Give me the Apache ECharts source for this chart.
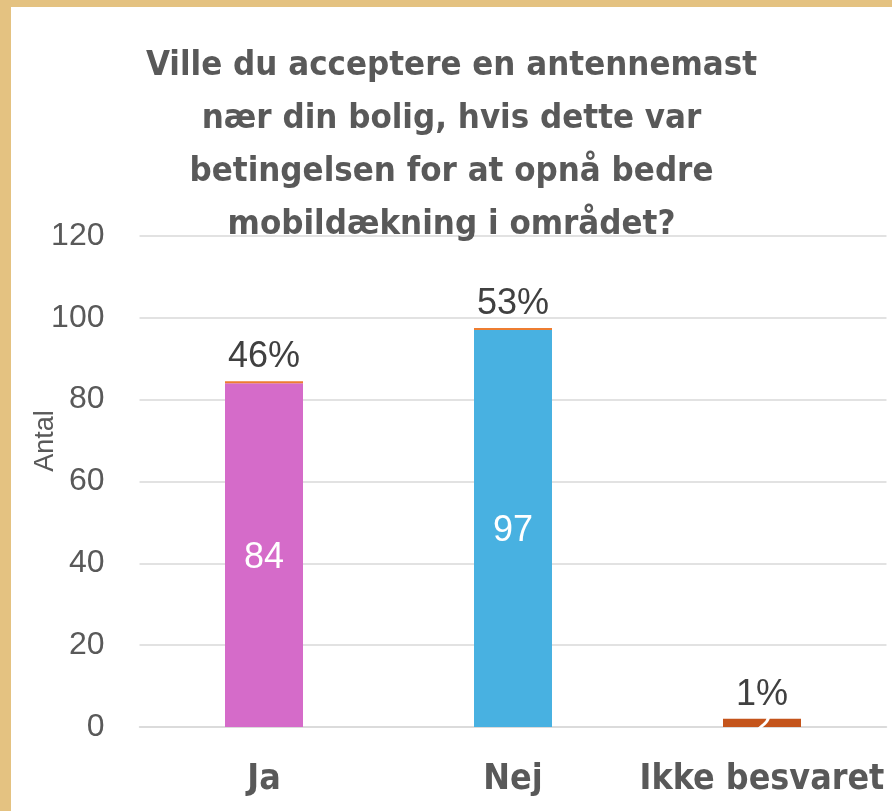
<!DOCTYPE html>
<html>
<head>
<meta charset="utf-8">
<script src="https://cdn.jsdelivr.net/npm/echarts@6/dist/echarts.min.js"></script>
<style>
  html, body { margin: 0; padding: 0; }
  body { width: 892px; height: 811px; background: #e4c281; position: relative; overflow: hidden; }
  #chart { position: absolute; left: 11px; top: 7px; width: 881px; height: 804px; background: #ffffff; }
</style>
</head>
<body>
<div id="chart"></div>
<script>
const categories = ["Ja", "Nej", "Ikke besvaret"];
const counts = [84, 97, 2];
const shares = [0.5, 0.5, 0];
const shareLabels = ["46%", "53%", "1%"];
const barColors = ["#d56bc9", "#48b1e1", "#c4541b"];
const yTicks = [0, 20, 40, 60, 80, 100, 120];

const titleText = "Ville du acceptere en antennemast\nnær din bolig, hvis dette var\nbetingelsen for at opnå bedre\nmobildækning i området?";
const condensed = '"Liberation Sans Narrow", "DejaVu Sans Condensed", "Liberation Sans", sans-serif';
const plain = '"Liberation Sans", Arial, sans-serif';

const chart = echarts.init(document.getElementById("chart"), null, { renderer: "canvas" });

chart.setOption({
  animation: false,
  title: {
    text: titleText,
    left: "center",
    top: 28,
    textStyle: {
      fontFamily: condensed,
      fontWeight: "bold",
      fontSize: 34.5,
      lineHeight: 53,
      color: "#595959"
    }
  },
  // axis title sits a bit above the middle of the plot, so it is drawn as graphic text
  graphic: [{
    type: "text",
    x: 35,
    y: 434,
    rotation: Math.PI / 2,
    style: {
      text: "Antal",
      fontFamily: plain,
      fontSize: 27,
      fill: "#595959",
      align: "center",
      verticalAlign: "middle"
    }
  }],
  grid: { left: 128.5, right: 5.5, top: 229, bottom: 84 },
  xAxis: {
    type: "category",
    data: categories,
    axisTick: { show: false },
    axisLine: { show: true, lineStyle: { color: "#d9d9d9", width: 1.5 } },
    axisLabel: {
      interval: 0,
      margin: 35,
      fontFamily: condensed,
      fontWeight: "bold",
      fontSize: 35.5,
      color: "#595959"
    }
  },
  yAxis: {
    type: "value",
    min: yTicks[0],
    max: yTicks[yTicks.length - 1],
    interval: 20,
    axisLine: { show: false },
    axisTick: { show: false },
    axisLabel: { margin: 35, fontFamily: plain, fontSize: 32, color: "#595959" },
    splitLine: { lineStyle: { color: "#d9d9d9", width: 1.5 } }
  },
  series: [
    {
      name: "Antal",
      type: "bar",
      stack: "total",
      barWidth: 78,
      data: counts.map((v, i) => ({ value: v, itemStyle: { color: barColors[i] } })),
      label: {
        show: true,
        position: "inside",
        offset: [0, 3],
        fontFamily: plain,
        fontSize: 36,
        color: "#ffffff"
      }
    },
    {
      name: "Andel",
      type: "bar",
      stack: "total",
      barWidth: 78,
      itemStyle: { color: "#ed7d31" },
      data: shares,
      label: {
        show: true,
        position: "top",
        distance: 6,
        fontFamily: plain,
        fontSize: 36,
        color: "#404040",
        formatter: (p) => shareLabels[p.dataIndex]
      }
    }
  ]
});
</script>
</body>
</html>
